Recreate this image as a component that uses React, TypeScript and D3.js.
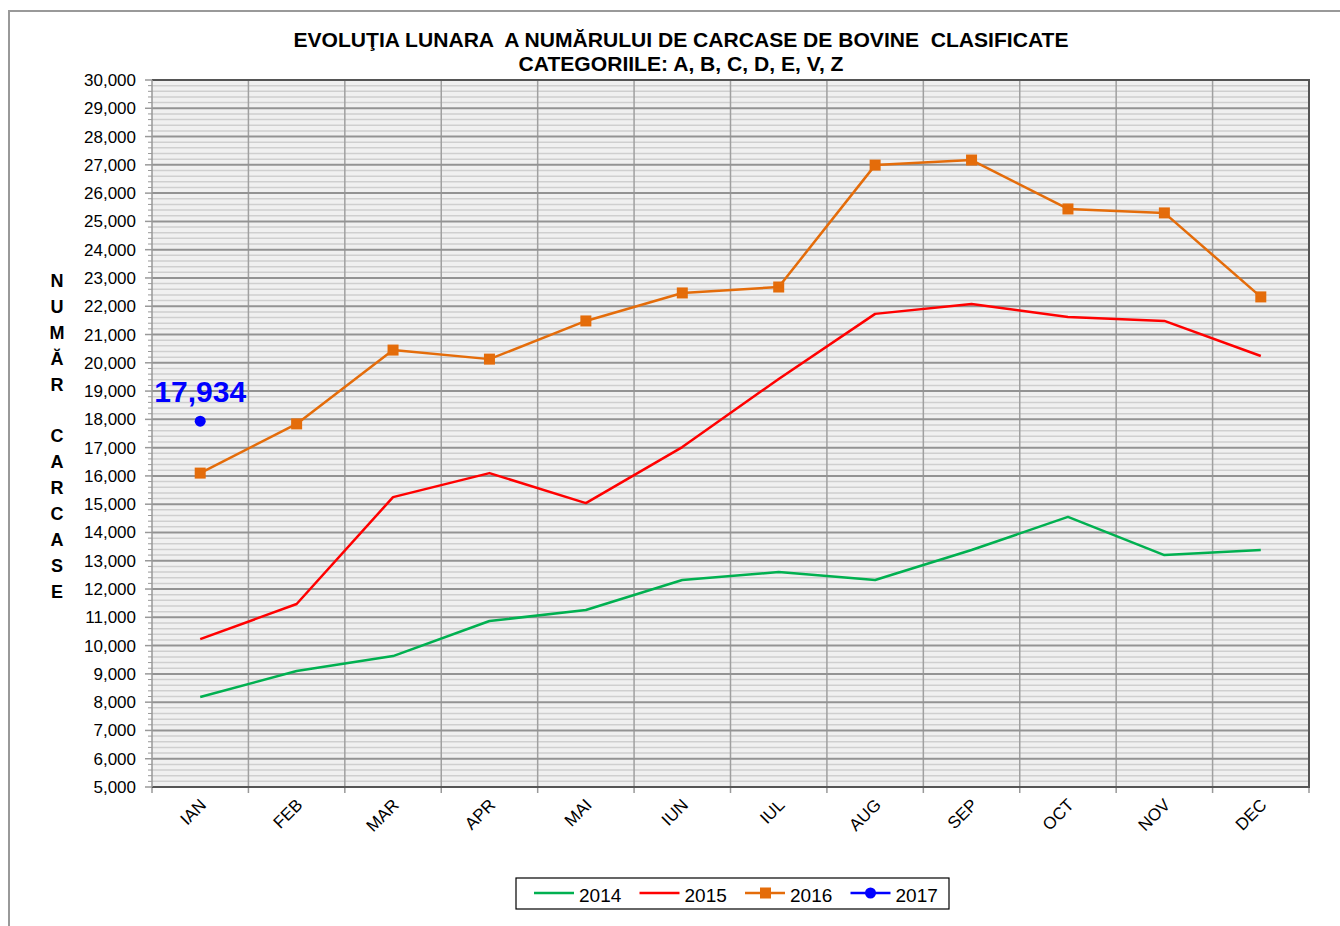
import React, { useRef, useEffect } from "react";
import * as d3 from "d3";

const months = ["IAN", "FEB", "MAR", "APR", "MAI", "IUN", "IUL", "AUG", "SEP", "OCT", "NOV", "DEC"];
const v2014 = [8180, 9100, 9630, 10870, 11260, 12320, 12600, 12320, 13380, 14550, 13200, 13380];
const v2015 = [10230, 11470, 15250, 16100, 15040, 17020, 19430, 21730, 22080, 21620, 21480, 20240];
const v2016 = [16100, 17840, 20450, 20130, 21480, 22470, 22680, 26990, 27170, 25440, 25300, 22330];
const v2017 = [17934];
const yTicks = d3.range(5000, 30001, 1000);
const axisTitle = ["N", "U", "M", "Ă", "R", "", "C", "A", "R", "C", "A", "S", "E"];

const FONT = "'Liberation Sans', Arial, sans-serif";

const App: React.FC = () => {
  const svgRef = useRef<SVGSVGElement>(null);

  useEffect(() => {
    document.body.style.margin = "0";
    if (!svgRef.current) return;
    const svg = d3.select(svgRef.current);
    svg.selectAll("*").remove();

    const left = 152, right = 1309, top = 80, bottom = 787;

    // outer frame
    svg.append("rect").attr("x", 9).attr("y", 11).attr("width", 1340).attr("height", 930)
      .attr("fill", "white").attr("stroke", "#999").attr("stroke-width", 2);

    const x = d3.scaleBand().domain(months).range([left, right]);
    const y = d3.scaleLinear().domain([5000, 30000]).range([bottom, top]);
    const cx = (m: string) => (x(m) as number) + x.bandwidth() / 2;

    // plot background
    svg.append("rect").attr("x", left).attr("y", top).attr("width", right - left).attr("height", bottom - top)
      .attr("fill", "#f0f0f0");

    // minor gridlines
    const minor = d3.range(5200, 30000, 200).filter((v) => v % 1000 !== 0);
    svg.append("g").selectAll("line").data(minor).enter().append("line")
      .attr("x1", left).attr("x2", right).attr("y1", (d) => y(d)).attr("y2", (d) => y(d))
      .attr("stroke", "#cfcfcf").attr("stroke-width", 1.5);
    // minor ticks
    svg.append("g").selectAll("line").data(minor).enter().append("line")
      .attr("x1", left - 4).attr("x2", left).attr("y1", (d) => y(d)).attr("y2", (d) => y(d))
      .attr("stroke", "#999").attr("stroke-width", 1);

    // vertical gridlines
    const bounds = d3.range(0, 13).map((i) => left + i * x.step());
    svg.append("g").selectAll("line").data(bounds.slice(1, 12)).enter().append("line")
      .attr("x1", (d) => d).attr("x2", (d) => d).attr("y1", top).attr("y2", bottom)
      .attr("stroke", "#a0a0a0").attr("stroke-width", 1.5);
    // x ticks
    svg.append("g").selectAll("line").data(bounds).enter().append("line")
      .attr("x1", (d) => d).attr("x2", (d) => d).attr("y1", bottom).attr("y2", bottom + 6)
      .attr("stroke", "#999").attr("stroke-width", 1.5);

    // major gridlines
    svg.append("g").selectAll("line").data(yTicks.slice(1, -1)).enter().append("line")
      .attr("x1", left).attr("x2", right).attr("y1", (d) => y(d)).attr("y2", (d) => y(d))
      .attr("stroke", "#939393").attr("stroke-width", 2);
    svg.append("g").selectAll("line").data(yTicks).enter().append("line")
      .attr("x1", left - 7).attr("x2", left).attr("y1", (d) => y(d)).attr("y2", (d) => y(d))
      .attr("stroke", "#999").attr("stroke-width", 1.5);

    // plot border
    svg.append("path")
      .attr("d", `M${left},${top}H${right}V${bottom}H${left}`)
      .attr("fill", "none").attr("stroke", "#555").attr("stroke-width", 2);
    svg.append("line").attr("x1", left).attr("x2", left).attr("y1", top).attr("y2", bottom)
      .attr("stroke", "#999").attr("stroke-width", 1.5);

    // y labels
    svg.append("g").selectAll("text").data(yTicks).enter().append("text")
      .attr("x", 136).attr("y", (d) => y(d) + 6).attr("text-anchor", "end")
      .attr("font-family", FONT).attr("font-size", 17).attr("fill", "#000")
      .text((d) => d3.format(",")(d));

    // x labels
    svg.append("g").selectAll("text").data(months).enter().append("text")
      .attr("transform", (d) => `translate(${cx(d) + 7},${bottom + 19}) rotate(-45)`)
      .attr("text-anchor", "end").attr("font-family", FONT).attr("font-size", 17).attr("fill", "#000")
      .text((d) => d);

    // y axis title
    svg.append("g").selectAll("text").data(axisTitle).enter().append("text")
      .attr("x", 57).attr("y", (d, i) => 287 + i * 25.9).attr("text-anchor", "middle")
      .attr("font-family", FONT).attr("font-size", 18).attr("font-weight", "bold").attr("fill", "#000")
      .text((d) => d);

    // title
    const title = [
      { t: "EVOLUŢIA LUNARA  A NUMĂRULUI DE CARCASE DE BOVINE  CLASIFICATE", y: 47, w: 775 },
      { t: "CATEGORIILE: A, B, C, D, E, V, Z", y: 71, w: 325 },
    ];
    svg.append("g").selectAll("text").data(title).enter().append("text")
      .attr("x", 681).attr("y", (d) => d.y).attr("text-anchor", "middle")
      .attr("font-family", "'Liberation Sans Narrow', " + FONT).attr("font-size", 20).attr("font-weight", "bold")
      .attr("textLength", (d) => d.w).attr("lengthAdjust", "spacingAndGlyphs")
      .style("white-space", "pre")
      .text((d) => d.t);

    // series
    const line = d3.line<number>().x((d, i) => cx(months[i])).y((d) => y(d));
    const series = [
      { data: v2014, color: "#00b050" },
      { data: v2015, color: "#ff0000" },
      { data: v2016, color: "#e46c0a" },
    ];
    svg.append("g").selectAll("path").data(series).enter().append("path")
      .attr("d", (d) => line(d.data))
      .attr("fill", "none").attr("stroke", (d) => d.color).attr("stroke-width", 2.5)
      .attr("stroke-linejoin", "round");

    svg.append("g").selectAll("rect").data(v2016).enter().append("rect")
      .attr("x", (d, i) => cx(months[i]) - 5.5).attr("y", (d) => y(d) - 5.5)
      .attr("width", 11).attr("height", 11).attr("fill", "#e46c0a");

    svg.append("g").selectAll("circle").data(v2017).enter().append("circle")
      .attr("cx", (d, i) => cx(months[i])).attr("cy", (d) => y(d)).attr("r", 5.5).attr("fill", "#0000ff");
    svg.append("g").selectAll("text").data(v2017).enter().append("text")
      .attr("x", (d, i) => cx(months[i])).attr("y", (d) => y(d) - 19).attr("text-anchor", "middle")
      .attr("font-family", FONT).attr("font-size", 30).attr("font-weight", "bold").attr("fill", "#0000ff")
      .text((d) => d3.format(",")(d));

    // legend
    const lg = svg.append("g");
    lg.append("rect").attr("x", 516).attr("y", 878).attr("width", 433).attr("height", 31)
      .attr("fill", "white").attr("stroke", "#000").attr("stroke-width", 1.2);
    const items = [
      { label: "2014", color: "#00b050", mark: "" },
      { label: "2015", color: "#ff0000", mark: "" },
      { label: "2016", color: "#e46c0a", mark: "square" },
      { label: "2017", color: "#0000ff", mark: "circle" },
    ];
    items.forEach((it, i) => {
      const x0 = 534 + i * 105.5;
      const yy = 893;
      lg.append("line").attr("x1", x0).attr("x2", x0 + 40).attr("y1", yy).attr("y2", yy)
        .attr("stroke", it.color).attr("stroke-width", 2.5);
      if (it.mark === "square") {
        lg.append("rect").attr("x", x0 + 15).attr("y", yy - 5.5).attr("width", 11).attr("height", 11).attr("fill", it.color);
      } else if (it.mark === "circle") {
        lg.append("circle").attr("cx", x0 + 20).attr("cy", yy).attr("r", 5.5).attr("fill", it.color);
      }
      lg.append("text").attr("x", x0 + 45).attr("y", yy + 9)
        .attr("font-family", FONT).attr("font-size", 19).attr("fill", "#000").text(it.label);
    });
  }, []);

  return <svg ref={svgRef} width={1340} height={926} style={{ display: "block" }}></svg>;
};

export default App;
